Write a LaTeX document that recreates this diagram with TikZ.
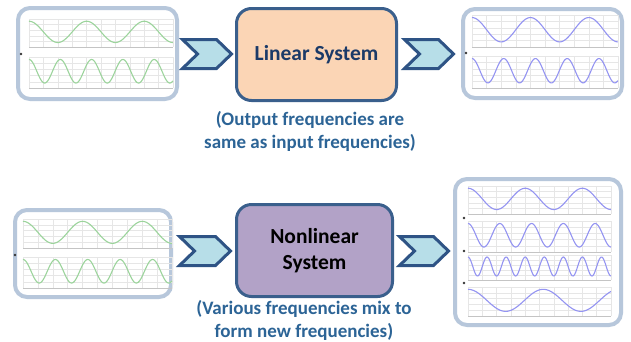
\documentclass[tikz,border=0pt]{standalone}
\usepackage{fontspec}
\setmainfont{Carlito}
\definecolor{panelc}{HTML}{B7C7DB}
\definecolor{boxc}{HTML}{3A5F8C}
\definecolor{chevc}{HTML}{2E5385}
\definecolor{chevf}{HTML}{B7DEE8}
\definecolor{peach}{HTML}{FBD5B5}
\definecolor{lilac}{HTML}{B2A2C7}
\definecolor{navy}{HTML}{1B3A68}
\definecolor{capc}{HTML}{2C6496}
\definecolor{gridc}{HTML}{E6E6E6}
\definecolor{axisc}{HTML}{C4C4C4}
\definecolor{wgreen}{HTML}{9CD49C}
\definecolor{wblue}{HTML}{9494F2}
\newcommand{\wavechart}[6]{%
  \foreach \i in {0,...,10} {\draw[gridl] ({#1+(#3-#1)*\i/10},#2) -- ({#1+(#3-#1)*\i/10},#4);}
  \foreach \j in {0,...,4} {\draw[gridl] (#1,{#2+(#4-#2)*\j/5}) -- (#3,{#2+(#4-#2)*\j/5});}
  \draw[axisl] (#1,#4) -- (#3,#4);
  \draw[#6, line width=1.1pt] plot[domain=0:1,samples=160,smooth] ({#1+(#3-#1)*\x},{#2+0.46*(#4-#2)-0.38*(#4-#2)*cos(360*#5*\x)});
}
\newcommand{\chevshape}[4]{%
  \draw[chev] (#1,#2) -- ({#3-15},#2) -- (#3,{(#2+#4)/2}) -- ({#3-15},#4) -- (#1,#4) -- ({#1+15},{(#2+#4)/2}) -- cycle;
}
\begin{document}
\begin{tikzpicture}[x=1pt,y=-1pt,
  panel/.style={draw=panelc, line width=4pt, rounded corners=12pt, fill=white, inner sep=0pt},
  sysbox/.style={draw=boxc, line width=3pt, rounded corners=15pt, inner sep=0pt, align=center, font=\fontsize{21.5}{26}\selectfont\bfseries},
  chev/.style={draw=chevc, line width=3pt, fill=chevf, line join=miter},
  captxt/.style={align=center, text=capc, inner sep=0pt, font=\fontsize{19}{23}\selectfont\bfseries},
  gridl/.style={draw=gridc, line width=0.5pt},
  axisl/.style={draw=axisc, line width=0.6pt},
  dotm/.style={fill=black!80, circle, inner sep=0pt, minimum size=2.8pt}
]
\useasboundingbox (0,0) rectangle (631,341);
\fill[white] (0,0) rectangle (631,341);

% ---------- top row ----------
\node[panel, minimum width=159pt, minimum height=91pt] (inA) at (97.5,53.5) {};
\wavechart{29}{19}{173}{47}{2.5}{wgreen}
\wavechart{29}{57}{173}{88}{4.6}{wgreen}
\node[dotm] (dA) at (21,54) {};

\chevshape{182.5}{39.5}{231.5}{68.5}

\node[sysbox, fill=peach, text=navy, minimum width=160pt, minimum height=92pt] (lin) at (316.5,54.5) {Linear System};

\chevshape{404.5}{39.5}{453.5}{68.5}

\node[panel, minimum width=159pt, minimum height=89pt] (outA) at (542.5,53.5) {};
\wavechart{472}{15}{618}{47}{2.5}{wblue}
\wavechart{472}{56}{618}{88}{4.6}{wblue}
\node[dotm] (dB) at (466,53) {};

\node[captxt] (capA) at (310,131) {(Output frequencies are\\same as input frequencies)};

% ---------- bottom row ----------
\node[panel, minimum width=156pt, minimum height=87pt] (inB) at (93,253.5) {};
\wavechart{23}{219}{172}{248}{2.5}{wgreen}
\wavechart{23}{257}{172}{288}{4.6}{wgreen}
\node[dotm] (dC) at (15,255) {};

\chevshape{179.5}{236.5}{230.5}{265.5}

\node[sysbox, fill=lilac, text=black, minimum width=156pt, minimum height=92pt] (nonlin) at (314.5,250.5) {Nonlinear\\System};

\chevshape{399.5}{236.5}{448.5}{265.5}

\node[panel, minimum width=166pt, minimum height=146pt] (outB) at (538,252) {};
\wavechart{468}{186}{611}{214}{2.5}{wblue}
\wavechart{468}{221}{611}{252}{4.5}{wblue}
\wavechart{468}{255}{611}{280}{7.5}{wblue}
\wavechart{468}{287}{611}{316}{1.9}{wblue}
\node[dotm] (dD) at (464,218) {};
\node[dotm] (dE) at (464,251) {};
\node[dotm] (dF) at (464,283) {};

\node[captxt] (capB) at (304,320) {(Various frequencies mix to\\form new frequencies)};
\end{tikzpicture}
\end{document}
